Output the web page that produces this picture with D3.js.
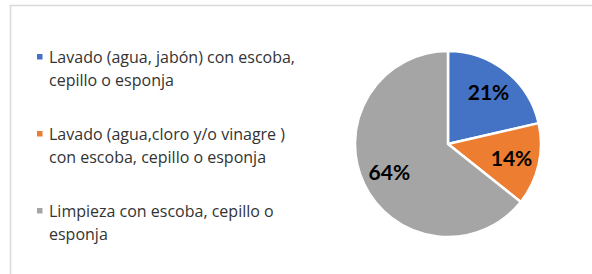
<!DOCTYPE html>
<html>
<head>
<meta charset="utf-8">
<script src="https://cdn.jsdelivr.net/npm/d3@7"></script>
<style>
  body { margin: 0; background: #fff; }
  svg { display: block; }
</style>
</head>
<body>
<div id="chart"></div>
<script>
// data
var categories = [
  ["Lavado (agua, jabón) con escoba,", "cepillo o esponja"],
  ["Lavado (agua,cloro y/o vinagre )", "con escoba, cepillo o esponja"],
  ["Limpieza con escoba, cepillo o", "esponja"]
];
var values = [21.4, 14.3, 64.3];
var labels = ["21%", "14%", "64%"];
var colors = ["#4472C4", "#ED7D31", "#A5A5A5"];

var W = 592, H = 274;

var svg = d3.select("#chart")
  .append("svg")
  .attr("width", W)
  .attr("height", H);

// chart frame (runs off the right and bottom of the picture)
svg.append("rect")
  .attr("x", 10.5)
  .attr("y", 5.5)
  .attr("width", W + 20)
  .attr("height", H + 20)
  .attr("fill", "none")
  .attr("stroke", "#d9d9d9")
  .attr("stroke-width", 1.5);

// legend
var legend = svg.append("g")
  .attr("transform", "translate(37,0)");

var items = legend.selectAll("g.item")
  .data(categories)
  .enter()
  .append("g")
  .attr("class", "item")
  .attr("transform", function(d, i) { return "translate(0," + (57 + i * 77) + ")"; });

items.append("rect")
  .attr("x", 0)
  .attr("y", -3)
  .attr("width", 5.5)
  .attr("height", 5.5)
  .attr("fill", function(d, i) { return colors[i]; });

items.selectAll("text")
  .data(function(d) { return d; })
  .enter()
  .append("text")
  .attr("x", 12)
  .attr("y", function(d, j) { return j * 23; })
  .attr("dy", "0.35em")
  .style("font-family", "'Open Sans', sans-serif")
  .style("font-size", "16px")
  .style("fill", "#333")
  .text(function(d) { return d; });

// pie
var cx = 448, cy = 144, r = 93;

var pie = d3.pie().sort(null).value(function(d) { return d; });
var arc = d3.arc().innerRadius(0).outerRadius(r);
var labelArc = d3.arc().innerRadius(r * 0.7).outerRadius(r * 0.7);

var g = svg.append("g")
  .attr("transform", "translate(" + cx + "," + cy + ")");

var slices = g.selectAll("g.slice")
  .data(pie(values))
  .enter()
  .append("g")
  .attr("class", "slice");

slices.append("path")
  .attr("d", arc)
  .attr("fill", function(d, i) { return colors[i]; })
  .attr("stroke", "#fff")
  .attr("stroke-width", 2.5)
  .attr("stroke-linejoin", "round");

slices.append("text")
  .attr("transform", function(d) { return "translate(" + labelArc.centroid(d) + ")"; })
  .attr("text-anchor", "middle")
  .attr("dy", "0.35em")
  .style("font-family", "Lato, sans-serif")
  .style("font-weight", "bold")
  .style("font-size", "21px")
  .style("fill", "#000")
  .text(function(d, i) { return labels[i]; });
</script>
</body>
</html>
